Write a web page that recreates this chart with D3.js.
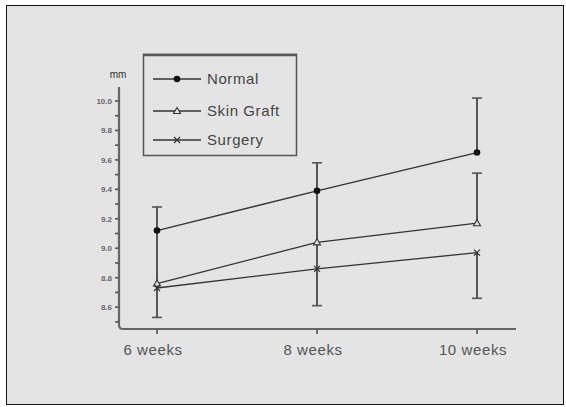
<!DOCTYPE html>
<html>
<head>
<meta charset="utf-8">
<script src="https://cdn.jsdelivr.net/npm/d3@7"></script>
<style>
  body { margin: 0; background: #fff; }
  text { font-family: "Liberation Sans", Arial, sans-serif; }
</style>
</head>
<body>
<div id="chart"></div>
<script>
// chart values
var weeks = ["6 weeks", "8 weeks", "10 weeks"];
var seriesNames = ["Normal", "Skin Graft", "Surgery"];
var normal = [9.12, 9.39, 9.65];
var skinGraft = [8.76, 9.04, 9.17];
var surgery = [8.73, 8.86, 8.97];
// error bar bounds (null = none)
var normalHigh = [9.28, 9.58, 10.02];
var normalLow = [null, null, null];
var skinGraftHigh = [9.12, 9.39, 9.51];
var skinGraftLow = [null, null, null];
var surgeryHigh = [8.76, 9.04, null];
var surgeryLow = [8.53, 8.61, 8.66];
var yTicks = [8.6, 8.8, 9.0, 9.2, 9.4, 9.6, 9.8, 10.0];
var yMinorTicks = [8.5, 8.7, 8.9, 9.1, 9.3, 9.5, 9.7, 9.9];

var width = 566, height = 407;
var svg = d3.select("#chart").append("svg")
  .attr("width", width).attr("height", height);

svg.append("rect").attr("x", 6.5).attr("y", 5.5).attr("width", 557).attr("height", 399)
  .attr("fill", "#e4e4e4").attr("stroke", "#111").attr("stroke-width", 1);

var x = d3.scalePoint().domain(weeks).range([157, 477]);
var y = d3.scaleLinear().domain([8.465, 10.095]).range([327, 87]);

var axisColor = "#666";

// axes (drawn as one path, rounded corner at the origin)
svg.append("path")
  .attr("d", "M119," + y.range()[1] + " L119,325 Q119,329 123,329 L516,329")
  .attr("fill", "none").attr("stroke", axisColor).attr("stroke-width", 2.2);

svg.selectAll(".ytick").data(yTicks.concat(yMinorTicks)).enter().append("line")
  .attr("x1", 115).attr("x2", 119)
  .attr("y1", d => y(d)).attr("y2", d => y(d))
  .attr("stroke", "#555").attr("stroke-width", 1.6);

svg.selectAll(".ylab").data(yTicks).enter().append("text")
  .attr("x", 112).attr("y", d => y(d) + 3)
  .attr("text-anchor", "end").attr("font-size", 8).attr("font-weight", "bold")
  .attr("fill", "#666")
  .text(d => d.toFixed(1));

svg.append("text").attr("x", 118).attr("y", 78).attr("text-anchor", "middle")
  .attr("font-size", 10).attr("fill", "#333").text("mm");

svg.selectAll(".xtick").data(weeks).enter().append("line")
  .attr("x1", d => x(d)).attr("x2", d => x(d))
  .attr("y1", 329).attr("y2", 334)
  .attr("stroke", "#555").attr("stroke-width", 1.6);

svg.selectAll(".xlab").data(weeks).enter().append("text")
  .attr("x", d => x(d) - 4).attr("y", 355)
  .attr("text-anchor", "middle").attr("font-size", 15).attr("letter-spacing", 0.6)
  .attr("fill", "#555")
  .text(d => d);

var series = [
  { name: seriesNames[0], values: normal, hi: normalHigh, lo: normalLow, marker: "dot" },
  { name: seriesNames[1], values: skinGraft, hi: skinGraftHigh, lo: skinGraftLow, marker: "tri" },
  { name: seriesNames[2], values: surgery, hi: surgeryHigh, lo: surgeryLow, marker: "cross" }
];

var line = d3.line().x((d, i) => x(weeks[i])).y(d => y(d));
svg.selectAll(".series").data(series).enter().append("path")
  .attr("d", d => line(d.values))
  .attr("fill", "none").attr("stroke", "#333").attr("stroke-width", 1.3);

// error bars
var allMeans = normal.concat(skinGraft, surgery);
series.forEach(function(s) {
  weeks.forEach(function(w, i) {
    [s.hi[i], s.lo[i]].forEach(function(b) {
      if (b == null) return;
      svg.append("line")
        .attr("x1", x(w)).attr("x2", x(w))
        .attr("y1", y(s.values[i])).attr("y2", y(b))
        .attr("stroke", "#555").attr("stroke-width", 2);
      if (allMeans.indexOf(b) < 0) {
        svg.append("line")
          .attr("x1", x(w) - 5).attr("x2", x(w) + 5)
          .attr("y1", y(b)).attr("y2", y(b))
          .attr("stroke", "#555").attr("stroke-width", 1.6);
      }
    });
  });
});

function drawMarker(g, type, cx, cy) {
  if (type === "dot") {
    g.append("circle").attr("cx", cx).attr("cy", cy).attr("r", 3.3).attr("fill", "#111");
  } else if (type === "tri") {
    g.append("path")
      .attr("d", "M" + cx + "," + (cy - 3.5) + " L" + (cx + 3.5) + "," + (cy + 2.5) + " L" + (cx - 3.5) + "," + (cy + 2.5) + "Z")
      .attr("fill", "#e4e4e4").attr("stroke", "#333").attr("stroke-width", 1.1);
  } else {
    g.append("path")
      .attr("d", "M" + (cx - 3) + "," + (cy - 3) + " L" + (cx + 3) + "," + (cy + 3) + " M" + (cx + 3) + "," + (cy - 3) + " L" + (cx - 3) + "," + (cy + 3))
      .attr("stroke", "#333").attr("stroke-width", 1.2);
  }
}

series.forEach(function(s) {
  s.values.forEach(function(v, i) { drawMarker(svg, s.marker, x(weeks[i]), y(v)); });
});

// legend
var legend = svg.append("g");
legend.append("rect").attr("x", 143.5).attr("y", 54.5).attr("width", 153).attr("height", 101)
  .attr("fill", "none").attr("stroke", "#555").attr("stroke-width", 1.5);
legend.append("line").attr("x1", 143).attr("x2", 297).attr("y1", 55).attr("y2", 55)
  .attr("stroke", "#555").attr("stroke-width", 2.5);
var legendY = [79, 111, 140];
series.forEach(function(s, i) {
  legend.append("line").attr("x1", 153).attr("x2", 201)
    .attr("y1", legendY[i]).attr("y2", legendY[i])
    .attr("stroke", "#333").attr("stroke-width", 1.3);
  drawMarker(legend, s.marker, 177, legendY[i]);
  legend.append("text").attr("x", 207).attr("y", legendY[i] + 5)
    .attr("font-size", 15).attr("letter-spacing", 0.6).attr("fill", "#444").text(s.name);
});
</script>
</body>
</html>
